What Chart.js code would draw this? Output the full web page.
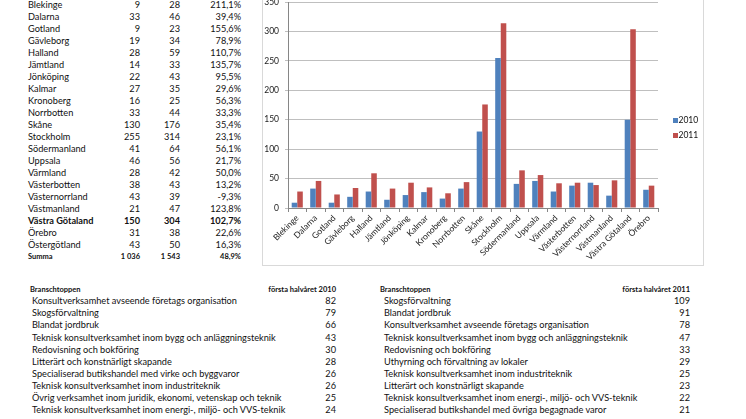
<!DOCTYPE html>
<html><head><meta charset="utf-8">
<script src="https://cdn.jsdelivr.net/npm/chart.js@4"></script>
<style>
html,body{margin:0;padding:0;background:#fff;width:746px;height:419px;overflow:hidden;font-family:Lato,'Noto Sans',sans-serif;color:#111}
.t{position:absolute;white-space:nowrap;font-size:9.2px;line-height:12px;height:12px}
.r{text-align:right;width:240px}
.b{font-weight:bold}
.s{font-size:7.5px}
#frame{position:absolute;left:262px;top:-10px;width:442px;height:276px;border:1px solid #d9d9d9;box-sizing:border-box}
#frame canvas{display:block}
.sw{position:absolute;width:5px;height:5px}
</style></head>
<body>
<div id="frame"><canvas id="c" width="440" height="274"></canvas></div>
<div id="texts"></div>
<script>
// ---- data ----
const regions = ['Blekinge','Dalarna','Gotland','Gävleborg','Halland','Jämtland','Jönköping','Kalmar','Kronoberg','Norrbotten','Skåne','Stockholm','Södermanland','Uppsala','Värmland','Västerbotten','Västernorrland','Västmanland','Västra Götaland','Örebro','Östergötland'];
const values2010 = [9,33,9,19,28,14,22,27,16,33,130,255,41,46,28,38,43,21,150,31,43];
const values2011 = [28,46,23,34,59,33,43,35,25,44,176,314,64,56,42,43,39,47,304,38,50];
const changePct = ['211,1%','39,4%','155,6%','78,9%','110,7%','135,7%','95,5%','29,6%','56,3%','33,3%','35,4%','23,1%','56,1%','21,7%','50,0%','13,2%','-9,3%','123,8%','102,7%','22,6%','16,3%'];
const boldRegion = 'Västra Götaland';
const summaRow = ['Summa','1 036','1 543','48,9%'];
const chartRegionCount = 20; // Östergötland not in chart
const seriesLabels = ['2010','2011'];
const yTicks = {min:0,max:350,step:50};

const branch2010Header = ['Branschtoppen','första halvåret 2010'];
const branch2010Names = ['Konsultverksamhet avseende företags organisation','Skogsförvaltning','Blandat jordbruk','Teknisk konsultverksamhet inom bygg och anläggningsteknik','Redovisning och bokföring','Litterärt och konstnärligt skapande','Specialiserad butikshandel med virke och byggvaror','Teknisk konsultverksamhet inom industriteknik','Övrig verksamhet inom juridik, ekonomi, vetenskap och teknik','Teknisk konsultverksamhet inom energi-, miljö- och VVS-teknik'];
const branch2010Values = [82,79,66,43,30,28,26,26,25,24];
const branch2011Header = ['Branschtoppen','första halvåret 2011'];
const branch2011Names = ['Skogsförvaltning','Blandat jordbruk','Konsultverksamhet avseende företags organisation','Teknisk konsultverksamhet inom bygg och anläggningsteknik','Redovisning och bokföring','Uthyrning och förvaltning av lokaler','Teknisk konsultverksamhet inom industriteknik','Litterärt och konstnärligt skapande','Teknisk konsultverksamhet inom energi-, miljö- och VVS-teknik','Specialiserad butikshandel med övriga begagnade varor'];
const branch2011Values = [109,91,78,47,33,29,25,23,22,21];

const colors = ['#4F81BD','#C0504D'];

// ---- text layout ----
const T = document.getElementById('texts');
function put(text, x, yc, cls, right){
  const d = document.createElement('div');
  d.className = 't ' + (cls||'') + (right?' r':'');
  d.textContent = text;
  d.style.top = (yc-6)+'px';
  d.style.left = (right ? x-240 : x)+'px';
  T.appendChild(d);
  return d;
}
regions.forEach((r,i)=>{
  const y = 4.7 + 12*i;
  const c = r===boldRegion ? 'b' : '';
  put(r, 28, y, c);
  put(String(values2010[i]), 140, y, c, true);
  put(String(values2011[i]), 180, y, c, true);
  put(changePct[i], 241, y, c, true);
});
{
  const y = 4.7 + 12*regions.length;
  put(summaRow[0], 28, y, 'b s');
  put(summaRow[1], 140, y, 'b s', true);
  put(summaRow[2], 180, y, 'b s', true);
  put(summaRow[3], 241, y, 'b s', true);
}
function branch(header, names, vals, xh, xn, xr){
  put(header[0], xh, 289.7, 'b s');
  put(header[1], xr, 289.7, 'b s', true);
  names.forEach((n,i)=>{
    const y = 301.3 + 12.07*i;
    put(n, xn, y);
    put(String(vals[i]), xr, y, '', true);
  });
}
branch(branch2010Header, branch2010Names, branch2010Values, 30, 32, 336);
branch(branch2011Header, branch2011Names, branch2011Values, 380, 384, 690);

// legend
seriesLabels.forEach((l,i)=>{
  const yc = 120 + 15*i;
  const s = document.createElement('div');
  s.className='sw'; s.style.left='673px'; s.style.top=(yc-2.5)+'px'; s.style.background=colors[i];
  T.appendChild(s);
  put(l, 678.5, yc).style.fontSize='8.5px';
});

// ---- chart ----
const chartLabels = regions.slice(0, chartRegionCount);
const font = {family:'Lato', size:8.5};
new Chart(document.getElementById('c'), {
  type:'bar',
  data:{
    labels: chartLabels,
    datasets: seriesLabels.map((l,i)=>({
      label:l,
      data:(i===0?values2010:values2011).slice(0, chartRegionCount),
      backgroundColor:colors[i],
      categoryPercentage:0.6,
      barPercentage:1
    }))
  },
  options:{
    responsive:false, animation:false, devicePixelRatio:1,
    layout:{padding:{left:0,right:45,top:8.5,bottom:0}},
    plugins:{legend:{display:false}, tooltip:{enabled:false}},
    scales:{
      x:{
        grid:{display:true, drawOnChartArea:false, offset:true, tickLength:4, color:'#868686'},
        border:{color:'#868686'},
        ticks:{autoSkip:false, minRotation:45, maxRotation:45, font:font, color:'#222', padding:1},
        afterFit(s){ s.height = 57; }
      },
      y:{
        min:yTicks.min, max:yTicks.max,
        ticks:{stepSize:yTicks.step, font:font, color:'#222', padding:6},
        grid:{color:'#bfbfbf', tickLength:3},
        border:{color:'#868686'},
        afterFit(s){ s.width = 25; }
      }
    }
  }
});
</script>
</body></html>
